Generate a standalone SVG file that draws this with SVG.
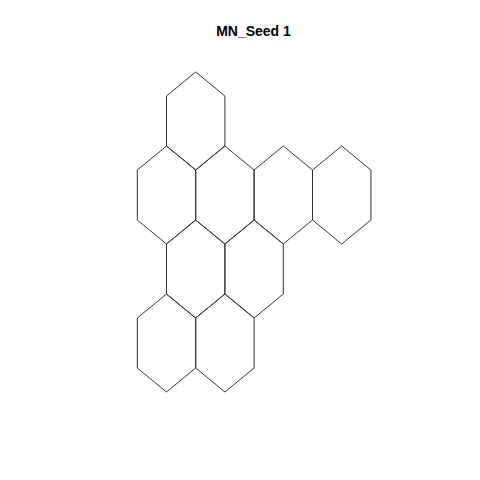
<svg xmlns="http://www.w3.org/2000/svg" xmlns:xlink="http://www.w3.org/1999/xlink" width="480" height="480" viewBox="0 0 480 480">
<style>
.hex{fill:none;stroke:#333;stroke-width:1;stroke-linejoin:miter}
.title{font-family:"Liberation Sans",Arial,sans-serif;font-weight:bold;font-size:14px;fill:#000}
</style>
<defs>
<polygon id="h" class="hex" points="0,-49 29.2,-25 29.2,25 0,49 -29.2,25 -29.2,-25"/>
</defs>
<rect width="480" height="480" fill="#fff"/>
<text class="title" x="253.5" y="36" text-anchor="middle">MN_Seed 1</text>
<g id="connectors"/>
<g id="hex1"><use xlink:href="#h" href="#h" x="195.7" y="121"/></g>
<g id="hex2"><use xlink:href="#h" href="#h" x="166.5" y="195"/></g>
<g id="hex3"><use xlink:href="#h" href="#h" x="224.9" y="195"/></g>
<g id="hex4"><use xlink:href="#h" href="#h" x="283.3" y="195"/></g>
<g id="hex5"><use xlink:href="#h" href="#h" x="341.7" y="195"/></g>
<g id="hex6"><use xlink:href="#h" href="#h" x="195.7" y="269"/></g>
<g id="hex7"><use xlink:href="#h" href="#h" x="254.1" y="269"/></g>
<g id="hex8"><use xlink:href="#h" href="#h" x="166.5" y="343"/></g>
<g id="hex9"><use xlink:href="#h" href="#h" x="224.9" y="343"/></g>
</svg>
